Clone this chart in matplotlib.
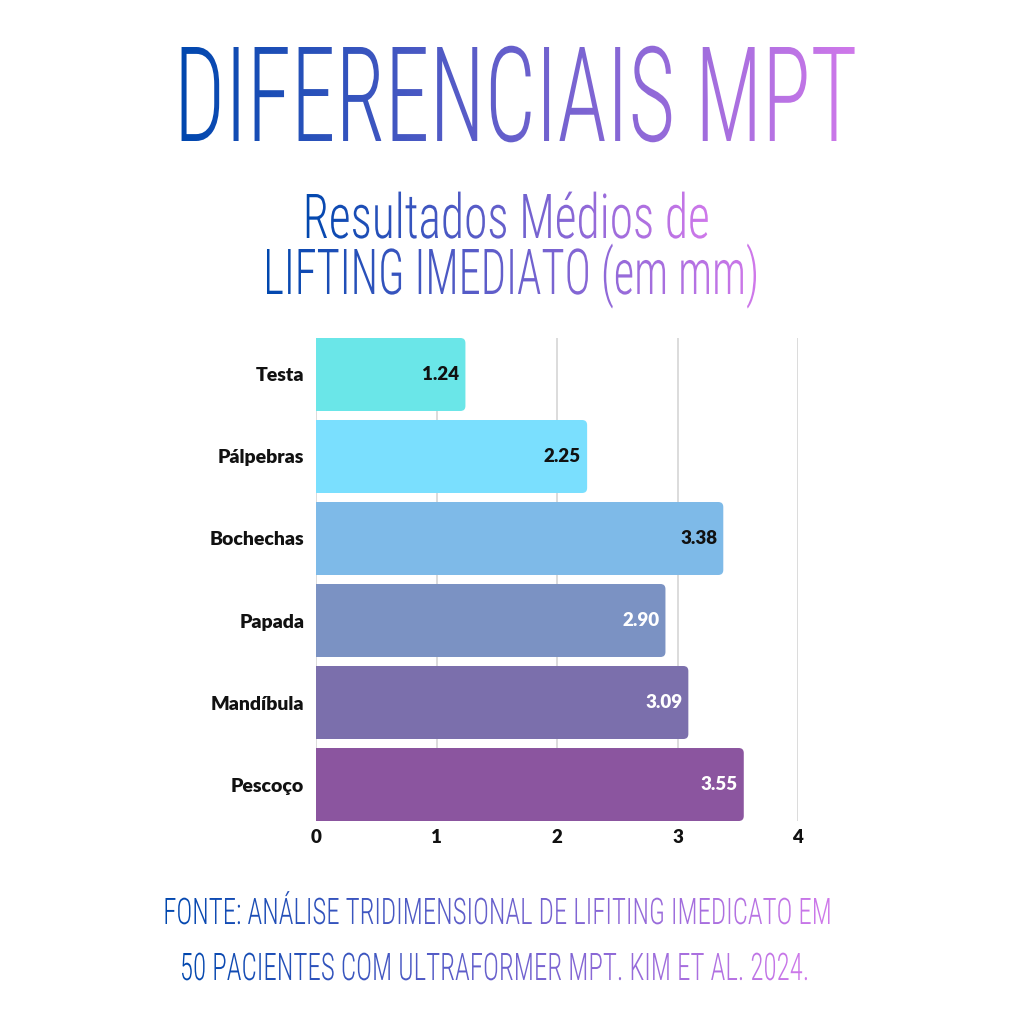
import numpy as np
import matplotlib
matplotlib.use('Agg')
import matplotlib.pyplot as plt
import matplotlib.colors as mcolors
from matplotlib import font_manager
from matplotlib.font_manager import FontProperties
from matplotlib.patches import FancyBboxPatch, Rectangle
from matplotlib.patheffects import AbstractPathEffect
from matplotlib.textpath import TextPath
from matplotlib.transforms import Affine2D, Bbox

# ---------------- data ----------------
categories = ['Testa', 'Pálpebras', 'Bochechas', 'Papada', 'Mandíbula', 'Pescoço']
values = [1.24, 2.25, 3.38, 2.90, 3.09, 3.55]
value_labels = ['1.24', '2.25', '3.38', '2.90', '3.09', '3.55']
bar_colors = ['#6AE6E8', '#7ADFFE', '#7EBAE8', '#7B92C3', '#7B6FAC', '#8B559F']
label_colors = ['#111111', '#111111', '#111111', '#FFFFFF', '#FFFFFF', '#FFFFFF']
xticks = [0, 1, 2, 3, 4]
title = 'DIFERENCIAIS MPT'
subtitle_lines = ['Resultados Médios de', 'LIFTING IMEDIATO (em mm)']
source_lines = ['FONTE: ANÁLISE TRIDIMENSIONAL DE LIFITING IMEDICATO EM',
                '50 PACIENTES COM ULTRAFORMER MPT. KIM ET AL. 2024.']

GRAD_START = '#0047AE'
GRAD_END = '#CF78EA'

# ---------------- fonts ----------------
ttf = font_manager.fontManager.ttflist
names = {f.name for f in ttf}


def _w(w):
    if isinstance(w, int):
        return w
    return font_manager.weight_dict.get(w, 400)


def has_light(fam):
    return any(_w(f.weight) <= 300 for f in ttf if f.name == fam)


cond_family, cond_weight = 'DejaVu Sans', 'normal'
for fam in ['Oswald', 'Roboto Condensed', 'Roboto', 'Open Sans', 'Lato', 'Inter']:
    if fam in names and has_light(fam):
        cond_family, cond_weight = fam, 'light'
        break
else:
    for fam in ['Oswald', 'Roboto', 'DejaVu Sans']:
        if fam in names:
            cond_family = fam
            break

label_family = next((n for n in ['Lato', 'Inter', 'Roboto', 'DejaVu Sans'] if n in names), 'DejaVu Sans')
label_weight = 'heavy'

DPI = 100
W = H = 1024


class GradientStretch(AbstractPathEffect):
    """Fill glyphs with a horizontal colour gradient, fitted to a width and cap height."""

    def __init__(self, c0, c1, width_px, cap_px, cap_ref_px, step=2):
        super().__init__()
        self.c0 = np.array(mcolors.to_rgb(c0))
        self.c1 = np.array(mcolors.to_rgb(c1))
        self.width_px = width_px
        self.cap_px = cap_px
        self.cap_ref_px = cap_ref_px
        self.step = step

    def draw_path(self, renderer, gc, tpath, affine, rgbFace=None):
        base = affine.transform([[0.0, 0.0]])[0]
        ext = tpath.transformed(affine).get_extents()
        cx = 0.5 * (ext.x0 + ext.x1)
        sx = self.width_px / ext.width
        sy = self.cap_px / self.cap_ref_px
        aff = affine + Affine2D().translate(-cx, -base[1]).scale(sx, sy).translate(cx, base[1])
        ext2 = tpath.transformed(aff).get_extents()
        x0 = int(np.floor(ext2.x0))
        x1 = int(np.ceil(ext2.x1))
        y0 = ext2.y0 - 4
        y1 = ext2.y1 + 4
        gc0 = renderer.new_gc()
        gc0.copy_properties(gc)
        gc0.set_linewidth(0)
        span = max(x1 - x0, 1)
        for xs in range(x0, x1, self.step):
            t = (xs + self.step / 2 - x0) / span
            col = tuple(np.clip(self.c0 * (1 - t) + self.c1 * t, 0, 1))
            gc0.set_clip_rectangle(Bbox([[xs, y0], [xs + self.step, y1]]))
            renderer.draw_path(gc0, tpath, aff, col)
        gc0.restore()


def gradient_text(fig, s, cx_px, baseline_px, width_px, cap_px, fontsize):
    fp = FontProperties(family=cond_family, weight=cond_weight, size=fontsize)
    size_px = fontsize * DPI / 72.0
    cap_ref = TextPath((0, 0), 'H', size=size_px, prop=fp).get_extents().height
    fig.text(cx_px / W, 1 - baseline_px / H, s, ha='center', va='baseline',
             fontproperties=fp,
             path_effects=[GradientStretch(GRAD_START, GRAD_END, width_px, cap_px, cap_ref)])


fig = plt.figure(figsize=(W / DPI, H / DPI), dpi=DPI)
fig.patch.set_facecolor('white')

# ---------------- titles ----------------
gradient_text(fig, title, 516, 141, 673, 94, 55)
gradient_text(fig, subtitle_lines[0], 506.5, 238, 401, 44, 28.5)
gradient_text(fig, subtitle_lines[1], 511.5, 294, 489, 45, 28.5)
gradient_text(fig, source_lines[0], 497, 924, 664, 26, 16)
gradient_text(fig, source_lines[1], 494.5, 980, 625, 27, 16)

# ---------------- chart ----------------
ax_l, ax_r, ax_t, ax_b = 316, 798, 338, 821
ax = fig.add_axes([ax_l / W, 1 - ax_b / H, (ax_r - ax_l) / W, (ax_b - ax_t) / H])
n = len(categories)
ypos = np.arange(n)
bh = 0.89
ax.set_xlim(0, 4)
ax.set_ylim(n - 1 + bh / 2, -bh / 2)

x_per_px = 4 / (ax_r - ax_l)
y_per_px = (n - 1 + bh) / (ax_b - ax_t)
radius_px = 5
asp = y_per_px / x_per_px
for yi, v, c in zip(ypos, values, bar_colors):
    ax.add_patch(FancyBboxPatch((0, yi - bh / 2), v, bh,
                                boxstyle=f'round,pad=0,rounding_size={radius_px * x_per_px}',
                                mutation_aspect=asp, facecolor=c, edgecolor='none', zorder=2))
    ax.add_patch(Rectangle((0, yi - bh / 2), v / 2, bh, facecolor=c, edgecolor='none', zorder=2))

for yi, v, lbl, lc in zip(ypos, values, value_labels, label_colors):
    ax.annotate(lbl, xy=(v, yi), xytext=(-6, 0), textcoords='offset pixels',
                ha='right', va='center', fontsize=13.5, fontweight=label_weight,
                family=label_family, color=lc, zorder=3)

ax.set_xticks(xticks)
ax.set_xticklabels([str(t) for t in xticks])
ax.set_yticks(ypos)
ax.set_yticklabels(categories)
ax.grid(axis='x', color='#D6D6D6', linewidth=1.2, zorder=0)
ax.set_axisbelow(True)
for sp in ax.spines.values():
    sp.set_visible(False)
ax.tick_params(axis='both', length=0)
ax.tick_params(axis='y', pad=8.5)
ax.tick_params(axis='x', pad=6)
for t in ax.get_yticklabels():
    t.set_fontweight(label_weight); t.set_fontsize(14); t.set_family(label_family); t.set_color('#111111')
for t in ax.get_xticklabels():
    t.set_fontweight(label_weight); t.set_fontsize(13.5); t.set_family(label_family); t.set_color('#111111')

fig.savefig('out.png', dpi=DPI, facecolor='white')
